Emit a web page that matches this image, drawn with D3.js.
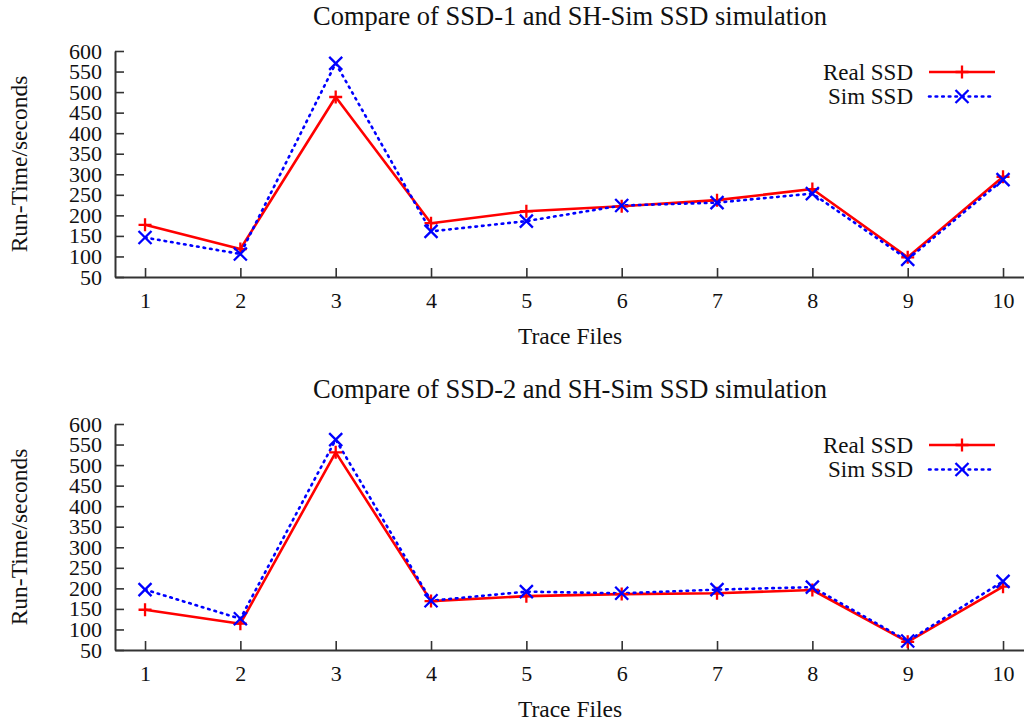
<!DOCTYPE html>
<html>
<head>
<meta charset="utf-8">
<script src="https://cdn.jsdelivr.net/npm/d3@7"></script>
<style>
  html, body { margin: 0; padding: 0; background: #fff; }
  svg { display: block; }
  text { font-family: "Liberation Serif", "DejaVu Serif", serif; fill: #111; }
</style>
</head>
<body>
<svg id="chart" width="1024" height="724"></svg>
<script>
// ---- data ----
const traceFiles = [1, 2, 3, 4, 5, 6, 7, 8, 9, 10];
const yTicks = [50, 100, 150, 200, 250, 300, 350, 400, 450, 500, 550, 600];
const titles = ["Compare of SSD-1 and SH-Sim SSD simulation", "Compare of SSD-2 and SH-Sim SSD simulation"];
const seriesNames = ["Real SSD", "Sim SSD"];
const realSSD1 = [177, 118, 488, 181, 210, 222, 237, 264, 98, 294];
const simSSD1  = [146, 106, 570, 161, 186, 224, 231, 253, 93, 287];
const realSSD2 = [148, 114, 531, 169, 181, 186, 188, 196, 70, 204];
const simSSD2  = [197, 126, 562, 170, 192, 188, 197, 203, 72, 217];
const xLabel = "Trace Files";
const yLabel = "Run-Time/seconds";

const svg = d3.select("#chart");

const x = d3.scaleLinear().domain([0.685, 10.22]).range([115, 1024]);
const y = d3.scaleLinear().domain([50, 600]).range([277, 51]);

const styles = [
  { color: "#ff0000", width: 2.6, dash: null, cap: "butt", marker: "plus" },
  { color: "#0000ff", width: 2.6, dash: "1.6,5", cap: "round", marker: "cross" }
];

function drawMarker(g, type, cx, cy, color) {
  const s = 6.5;
  const d = type === "plus"
    ? `M${cx - s},${cy}H${cx + s}M${cx},${cy - s}V${cy + s}`
    : `M${cx - s},${cy - s}L${cx + s},${cy + s}M${cx - s},${cy + s}L${cx + s},${cy - s}`;
  g.append("path").attr("d", d)
    .attr("stroke", color).attr("stroke-width", 2.3).attr("fill", "none");
}

function panel(offsetY, title, real, sim) {
  const g = svg.append("g").attr("transform", `translate(0,${offsetY})`);

  g.append("text")
    .attr("x", 570).attr("y", 25)
    .attr("text-anchor", "middle")
    .style("font-size", "26.5px")
    .text(title);

  const yAxis = d3.axisLeft(y).tickValues(yTicks).tickSizeInner(-9).tickSizeOuter(0).tickPadding(13);
  const xAxis = d3.axisBottom(x).tickValues(traceFiles).tickSizeInner(-9).tickSizeOuter(0).tickPadding(15);

  const ya = g.append("g").attr("transform", "translate(115,0)").call(yAxis);
  const xa = g.append("g").attr("transform", "translate(0,277)").call(xAxis);
  [ya, xa].forEach(a => {
    a.attr("font-family", "Liberation Serif");
    a.selectAll("path.domain").attr("stroke", "#333").attr("stroke-width", 2);
    a.selectAll(".tick line").attr("stroke", "#333").attr("stroke-width", 1.6);
    a.selectAll(".tick text").style("font-size", "22px").attr("fill", "#111");
  });

  g.append("text")
    .attr("transform", "translate(27,164) rotate(-90)")
    .attr("text-anchor", "middle")
    .style("font-size", "23.5px")
    .text(yLabel);

  g.append("text")
    .attr("x", 570).attr("y", 344)
    .attr("text-anchor", "middle")
    .style("font-size", "23.5px")
    .text(xLabel);

  const line = d3.line().x((d, i) => x(traceFiles[i])).y(d => y(d));
  [real, sim].forEach((data, k) => {
    const st = styles[k];
    g.append("path")
      .datum(data)
      .attr("d", line)
      .attr("fill", "none")
      .attr("stroke", st.color)
      .attr("stroke-width", st.width)
      .attr("stroke-dasharray", st.dash)
      .attr("stroke-linecap", st.cap)
      .attr("stroke-linejoin", "round");
  });
  [real, sim].forEach((data, k) => {
    const st = styles[k];
    data.forEach((v, i) => drawMarker(g, st.marker, x(traceFiles[i]), y(v), st.color));
  });

  // legend
  seriesNames.forEach((name, k) => {
    const st = styles[k];
    const ly = 72 + k * 24.5;
    g.append("text")
      .attr("x", 913).attr("y", ly + 7.5)
      .attr("text-anchor", "end")
      .style("font-size", "23px")
      .text(name);
    g.append("line")
      .attr("x1", 929).attr("x2", 995).attr("y1", ly).attr("y2", ly)
      .attr("stroke", st.color).attr("stroke-width", st.width)
      .attr("stroke-dasharray", st.dash)
      .attr("stroke-linecap", st.cap);
    drawMarker(g, st.marker, 962, ly, st.color);
  });
}

panel(0, titles[0], realSSD1, simSSD1);
panel(373, titles[1], realSSD2, simSSD2);
</script>
</body>
</html>
